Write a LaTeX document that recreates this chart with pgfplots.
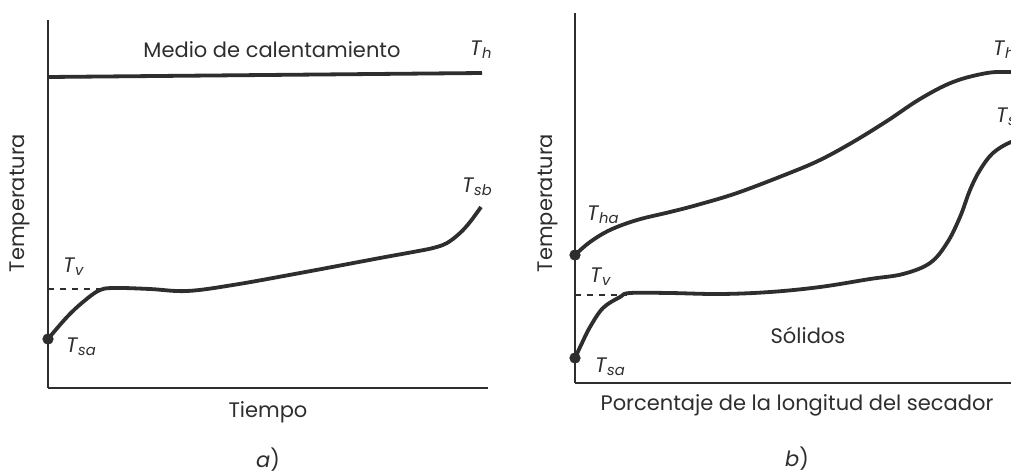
\documentclass[border=0pt]{standalone}
\usepackage{fontspec}
\setmainfont{Poppins}
\usepackage{pgfplots}
\pgfplotsset{compat=1.18}
\definecolor{ink}{HTML}{2E2E2E}
\newcommand{\lbl}[2]{\textit{#1}\textsubscript{\textit{#2}}}
\begin{document}
\begin{tikzpicture}[x=0.5pt,y=0.5pt,font=\fontsize{10.5}{12}\selectfont,text=ink]
\clip (0,0) rectangle (1011,473);
\fill[white] (0,0) rectangle (1011,473);
\pgfplotsset{
  dryer/.style={
    scale only axis,
    axis x line=bottom, axis y line=left,
    axis line style={-, line width=0.75pt, draw=ink},
    xtick=\empty, ytick=\empty,
    clip=false,
    xmin=0, ymin=0,
  },
  curve/.style={ink, line width=1.9pt, smooth, tension=0.6, no marks},
}
% (a) batch drying against time
\begin{axis}[dryer, at={(48,85)}, anchor=south west,
  width=220pt, height=184pt, xmax=440, ymax=368]
  \addplot[ink, line width=1.9pt, no marks] coordinates {(0,311) (434,315)};
  \addplot[ink, line width=0.6pt, dashed, no marks] coordinates {(0,99) (52,99)};
  \addplot[curve] coordinates {
    (0,49) (19,71) (35,86) (52,98) (69,100) (102,99) (139,97) (185,103)
    (252,115) (332,130) (365,136) (385,140) (399,145) (412,155) (422,166)
    (433,181)};
  \addplot[ink, only marks, mark=*, mark size=2.6pt] coordinates {(0,49)};
  \node at (axis cs:224,338) {Medio de calentamiento};
  \node[anchor=west] at (axis cs:415,338) {\lbl{T}{h}};
  \node[anchor=west] at (axis cs:407,201) {\lbl{T}{sb}};
  \node[anchor=west] at (axis cs:8,121) {\lbl{T}{v}};
  \node[anchor=west] at (axis cs:11,41) {\lbl{T}{sa}};
  \node[rotate=90] at (axis cs:-28,185) {Temperatura};
  \node at (axis cs:220,-24) {Tiempo};
  \node at (axis cs:220,-72) {\textit{a})};
\end{axis}
% (b) continuous dryer against length
\begin{axis}[dryer, at={(575,90)}, anchor=south west,
  width=220pt, height=185pt, xmax=440, ymax=370]
  \addplot[ink, line width=0.6pt, dashed, no marks] coordinates {(0,88) (52,88)};
  \addplot[curve] coordinates {
    (0,128) (15,141) (35,153) (62,163) (95,171) (122,178) (162,190) (212,209)
    (245,223) (278,241) (312,262) (345,284) (378,301) (412,310) (436,311)
    (450,311)};
  \addplot[curve] coordinates {
    (0,25) (7,40) (15,56) (28,75) (45,86) (55,90) (95,90) (145,89) (195,91)
    (245,96) (295,104) (328,109) (355,120) (372,140) (385,166) (395,193)
    (405,213) (418,230) (436,241) (450,243)};
  \addplot[ink, only marks, mark=*, mark size=2.6pt] coordinates {(0,128) (0,25)};
  \node[anchor=west] at (axis cs:411,333) {\lbl{T}{hb}};
  \node[anchor=west] at (axis cs:414,266) {\lbl{T}{sb}};
  \node[anchor=west] at (axis cs:5,168) {\lbl{T}{ha}};
  \node[anchor=west] at (axis cs:8,106) {\lbl{T}{v}};
  \node[anchor=west] at (axis cs:13,16) {\lbl{T}{sa}};
  \node at (axis cs:233,48) {Sólidos};
  \node[rotate=90] at (axis cs:-27,180) {Temperatura};
  \node at (axis cs:222,-22) {Porcentaje de la longitud del secador};
  \node at (axis cs:222,-76) {\textit{b})};
\end{axis}
\end{tikzpicture}
\end{document}
